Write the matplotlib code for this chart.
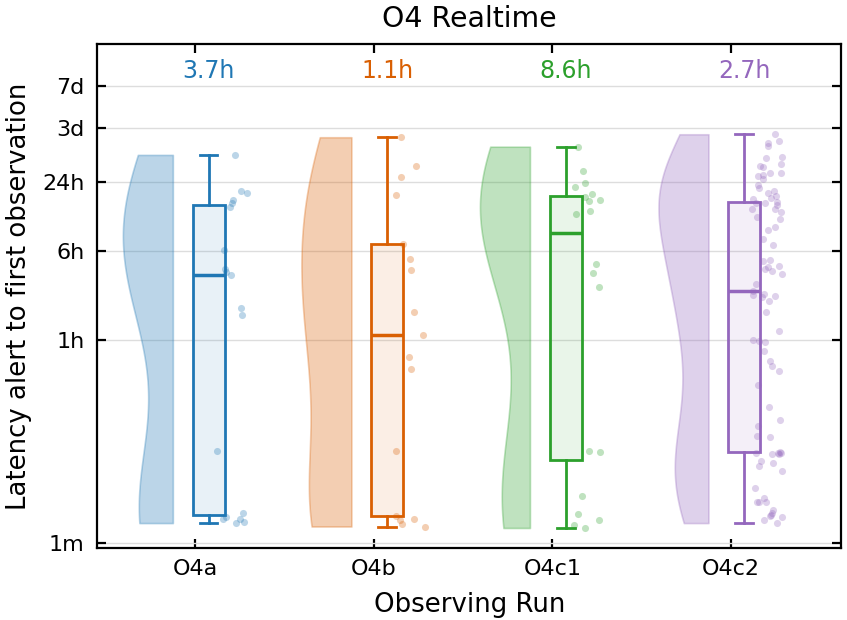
import numpy as np
import matplotlib
matplotlib.use("Agg")
import matplotlib.pyplot as plt
from matplotlib.ticker import NullLocator

# latency from alert to first observation, in minutes
runs = ["O4a", "O4b", "O4c1", "O4c2"]
colors = ["#1f77b4", "#d95f02", "#2ca02c", "#9467bd"]

lat_o4a = [1.49, 1.51, 1.62, 1.63, 1.68, 1.82, 6.4, 99, 115, 222, 235, 252,
           368, 871, 955, 1009, 1153, 1216, 2500]

lat_o4b = [1.39, 1.46, 1.59, 1.61, 1.72, 6.43, 33.2, 42.5, 66, 105, 244, 309,
           418, 1109, 1592, 2000, 3570]

lat_o4c1 = [1.35, 1.44, 1.59, 1.78, 2.58, 6.26, 6.43, 175, 230, 277, 755, 803,
            982, 1009, 1071, 1130, 1303, 1413, 1820, 2951]

lat_o4c2 = [1.49, 1.57, 1.69, 1.72, 1.76, 1.83, 1.95, 2.26, 2.28, 2.30, 2.49,
            3.03, 4.25, 4.75, 5.05, 5.23, 6.0, 6.05, 6.10, 6.12, 6.14, 6.26,
            8.53, 8.65, 10.6, 11.9, 15.5, 24.0, 32.3, 35.7, 39.5, 48.0, 58, 59,
            60, 72.3, 105, 132, 143, 145, 149, 151, 162, 185, 227, 241, 249,
            263, 267, 293, 299, 409, 462, 551, 589, 687, 720, 791, 841, 846,
            912, 950, 955, 968, 1035, 1050, 1086, 1153, 1216, 1285, 1372, 1539,
            1644, 1660, 1726, 1749, 1960, 2000, 2070, 2366, 2415, 3010, 3160,
            3330, 3790]

latencies = [lat_o4a, lat_o4b, lat_o4c1, lat_o4c2]

ytick_vals = [1, 60, 360, 1440, 4320, 10080]
ytick_labels = ["1m", "1h", "6h", "24h", "3d", "7d"]

VIOLIN_EDGE = -0.125
VIOLIN_WIDTH = 0.28
BOX_OFFSET = 0.075
BOX_WIDTH = 0.18


def half_violin(ax, x, vals, color):
    # gaussian kde in log space, scott bandwidth, cut at the data range
    logv = np.log10(vals)
    grid = np.linspace(logv.min(), logv.max(), 300)
    bw = logv.std(ddof=1) * len(logv) ** (-1 / 5)
    dens = np.exp(-0.5 * ((grid[:, None] - logv[None, :]) / bw) ** 2).sum(axis=1)
    dens = dens / dens.max() * VIOLIN_WIDTH
    ax.fill_betweenx(10 ** grid, x + VIOLIN_EDGE - dens, x + VIOLIN_EDGE,
                     facecolor=color, alpha=0.3, edgecolor=color, linewidth=1.2)


def main():

    plt.rcParams['font.family'] = 'DejaVu Sans'

    fig = plt.figure(figsize=(8.47, 6.2), dpi=100)
    ax = fig.add_axes([0.1145, 0.116, 0.879, 0.813])

    ax.set_yscale('log')
    ax.grid(True, axis='y', color='#dddddd', linewidth=1.0, zorder=0)
    ax.set_axisbelow(True)

    rng = np.random.default_rng(7)

    for i, (vals, c) in enumerate(zip(latencies, colors)):
        vals = np.array(vals, dtype=float)

        half_violin(ax, i, vals, c)

        bp = ax.boxplot(vals, positions=[i + BOX_OFFSET], widths=BOX_WIDTH,
                        whis=(0, 100), showfliers=False, patch_artist=True,
                        manage_ticks=False, capwidths=0.1,
                        boxprops=dict(facecolor=c, edgecolor=c, linewidth=2),
                        whiskerprops=dict(color=c, linewidth=2),
                        capprops=dict(color=c, linewidth=2),
                        medianprops=dict(color=c, linewidth=2.5))
        for b in bp['boxes']:
            b.set_facecolor(matplotlib.colors.to_rgba(c, 0.1))

        xj = i + rng.uniform(0.12, 0.29, len(vals))
        ax.scatter(xj, vals, s=26, color=c, alpha=0.3, linewidths=0, zorder=3)

        med = np.median(vals)
        ax.text(i + BOX_OFFSET, 0.946, f"{med / 60:.1f}h", color=c, fontsize=17,
                ha='center', va='center', transform=ax.get_xaxis_transform())

    ax.set_xlim(-0.55, 3.62)
    ax.set_ylim(0.9, 23400)

    ax.set_xticks(range(len(runs)))
    ax.set_xticklabels(runs)
    ax.set_yticks(ytick_vals)
    ax.set_yticklabels(ytick_labels)
    ax.yaxis.set_minor_locator(NullLocator())

    ax.tick_params(axis='both', which='major', direction='in', length=6.5, width=1.6,
                   labelsize=16, top=True, right=True)
    ax.tick_params(axis='x', pad=8)
    ax.tick_params(axis='y', pad=9)
    for s in ax.spines.values():
        s.set_linewidth(1.6)

    ax.set_xlabel("Observing Run", fontsize=18.7, labelpad=9)
    ax.set_ylabel("Latency alert to first observation", fontsize=18.7, labelpad=7)
    ax.set_title("O4 Realtime", fontsize=20.4, pad=12.5)

    plt.savefig("out.png", dpi=100)
    plt.close()


if __name__ == "__main__":
    main()
